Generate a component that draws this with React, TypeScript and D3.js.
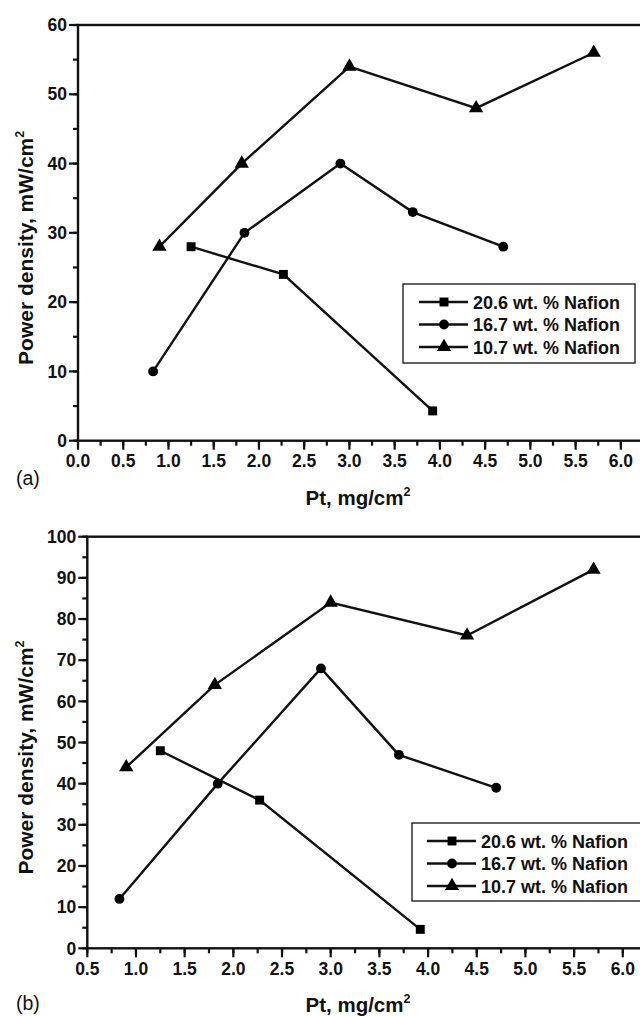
import React, { useEffect, useRef } from "react";
import * as d3 from "d3";

// Pt loading (mg/cm2) for each membrane series
const ptNafion206 = [1.25, 2.27, 3.92];
const ptNafion167 = [0.83, 1.84, 2.9, 3.7, 4.7];
const ptNafion107 = [0.9, 1.81, 3.0, 4.4, 5.7];

// panel (a) power density, mW/cm2
const powerA206 = [28, 24, 4.3];
const powerA167 = [10, 30, 40, 33, 28];
const powerA107 = [28, 40, 54, 48, 56];

// panel (b) power density, mW/cm2
const powerB206 = [48, 36, 4.6];
const powerB167 = [12, 40, 68, 47, 39];
const powerB107 = [44, 64, 84, 76, 92];

const seriesNames = ["20.6 wt. % Nafion", "16.7 wt. % Nafion", "10.7 wt. % Nafion"];

const xTicksA = [0, 0.5, 1, 1.5, 2, 2.5, 3, 3.5, 4, 4.5, 5, 5.5, 6];
const xTicksB = [0.5, 1, 1.5, 2, 2.5, 3, 3.5, 4, 4.5, 5, 5.5, 6];
const yTicksA = [0, 10, 20, 30, 40, 50, 60];
const yTicksB = [0, 10, 20, 30, 40, 50, 60, 70, 80, 90, 100];

const FONT = "'Liberation Sans', Arial, sans-serif";
const symbols = [d3.symbolSquare, d3.symbolCircle, d3.symbolTriangle];
const symbolSizes = [80, 76, 88];

function drawPanel(svg, p) {
  const x = d3.scaleLinear().domain(p.xDomain).range([p.left, p.right]);
  const y = d3.scaleLinear().domain(p.yDomain).range([p.bottom, p.top]);
  const g = svg.append("g");

  // minor ticks
  const xMinor = d3.range(p.xDomain[0], p.xDomain[1] + 0.001, 0.25);
  g.selectAll(".xminor").data(xMinor).enter().append("line")
    .attr("x1", d => x(d)).attr("x2", d => x(d))
    .attr("y1", p.bottom).attr("y2", p.bottom + 5)
    .attr("stroke", "#111").attr("stroke-width", 2.2);
  const yMinor = d3.range(p.yDomain[0], p.yDomain[1] + 0.001, p.yStep / 2);
  g.selectAll(".yminor").data(yMinor).enter().append("line")
    .attr("x1", p.left - 5).attr("x2", p.left)
    .attr("y1", d => y(d)).attr("y2", d => y(d))
    .attr("stroke", "#111").attr("stroke-width", 2.2);

  // major ticks + labels
  g.selectAll(".xmajor").data(p.xTicks).enter().append("line")
    .attr("x1", d => x(d)).attr("x2", d => x(d))
    .attr("y1", p.bottom).attr("y2", p.bottom + 9)
    .attr("stroke", "#111").attr("stroke-width", 2.2);
  g.selectAll(".xlab").data(p.xTicks).enter().append("text")
    .attr("x", d => x(d)).attr("y", p.bottom + 26.5)
    .attr("text-anchor", "middle")
    .style("font-family", FONT).style("font-size", "17.5px").style("font-weight", "bold")
    .attr("fill", "#111")
    .text(d => d.toFixed(1));
  g.selectAll(".ymajor").data(p.yTicks).enter().append("line")
    .attr("x1", p.left - 9).attr("x2", p.left)
    .attr("y1", d => y(d)).attr("y2", d => y(d))
    .attr("stroke", "#111").attr("stroke-width", 2.2);
  g.selectAll(".ylab").data(p.yTicks).enter().append("text")
    .attr("x", p.left - 11).attr("y", d => y(d) + 6.2)
    .attr("text-anchor", "end")
    .style("font-family", FONT).style("font-size", "17.5px").style("font-weight", "bold")
    .attr("fill", "#111")
    .text(d => d);

  // frame
  g.append("rect")
    .attr("x", p.left).attr("y", p.top)
    .attr("width", p.right - p.left).attr("height", p.bottom - p.top)
    .attr("fill", "none").attr("stroke", "#111").attr("stroke-width", 2.4);

  // series
  const line = d3.line().x(d => x(d[0])).y(d => y(d[1]));
  p.series.forEach((s, i) => {
    const pts = s.xs.map((v, k) => [v, s.ys[k]]);
    g.append("path").datum(pts)
      .attr("d", line).attr("fill", "none")
      .attr("stroke", "#111").attr("stroke-width", 2.4);
    g.selectAll(".pt" + i).data(pts).enter().append("path")
      .attr("d", d3.symbol().type(symbols[i]).size(symbolSizes[i]))
      .attr("transform", d => "translate(" + x(d[0]) + "," + y(d[1]) + ")")
      .attr("fill", "#000");
  });

  // axis titles
  const cy = (p.top + p.bottom) / 2 + 15;
  const yt = g.append("text")
    .attr("transform", "translate(32.5," + cy + ") rotate(-90)")
    .attr("text-anchor", "middle")
    .style("font-family", FONT).style("font-size", "21px").style("font-weight", "bold")
    .attr("fill", "#111");
  yt.append("tspan").text("Power density, mW/cm");
  yt.append("tspan").attr("dy", -9).style("font-size", "12.5px").text("2");

  const xt = g.append("text")
    .attr("x", 358).attr("y", p.xTitleY)
    .attr("text-anchor", "middle")
    .style("font-family", FONT).style("font-size", "20.5px").style("font-weight", "bold")
    .attr("fill", "#111");
  xt.append("tspan").text("Pt, mg/cm");
  xt.append("tspan").attr("dy", -9).style("font-size", "12.5px").text("2");

  g.append("text")
    .attr("x", 16).attr("y", p.tagY)
    .style("font-family", FONT).style("font-size", "19.5px")
    .attr("fill", "#111")
    .text(p.tag);

  // legend
  const L = p.legend;
  g.append("rect")
    .attr("x", L.x).attr("y", L.y).attr("width", L.w).attr("height", L.h)
    .attr("fill", "#fff").attr("stroke", "#222").attr("stroke-width", 1.4);
  seriesNames.forEach((name, i) => {
    const ry = L.row0 + i * 22.5;
    g.append("line")
      .attr("x1", L.lx).attr("x2", L.lx + 49).attr("y1", ry).attr("y2", ry)
      .attr("stroke", "#111").attr("stroke-width", 2.4);
    g.append("path")
      .attr("d", d3.symbol().type(symbols[i]).size(symbolSizes[i]))
      .attr("transform", "translate(" + (L.lx + 25) + "," + ry + ")")
      .attr("fill", "#000");
    g.append("text")
      .attr("x", L.lx + 54).attr("y", ry + 6.5)
      .style("font-family", FONT).style("font-size", "18px").style("font-weight", "bold")
      .attr("fill", "#111")
      .text(name);
  });
}

export default function App() {
  const ref = useRef(null);
  useEffect(() => {
    const svg = d3.select(ref.current);
    svg.selectAll("*").remove();
    drawPanel(svg, {
      left: 78, right: 648, top: 25, bottom: 440.7,
      xDomain: [0, 6.3], yDomain: [0, 60], yStep: 10,
      xTicks: xTicksA, yTicks: yTicksA,
      xTitleY: 505, tag: "(a)", tagY: 485,
      legend: { x: 403, y: 284, w: 232, h: 79, row0: 302, lx: 419 },
      series: [
        { xs: ptNafion206, ys: powerA206 },
        { xs: ptNafion167, ys: powerA167 },
        { xs: ptNafion107, ys: powerA107 },
      ],
    });
    drawPanel(svg, {
      left: 87.3, right: 652, top: 536.7, bottom: 948.3,
      xDomain: [0.5, 6.3], yDomain: [0, 100], yStep: 10,
      xTicks: xTicksB, yTicks: yTicksB,
      xTitleY: 1011.5, tag: "(b)", tagY: 1010,
      legend: { x: 412, y: 823, w: 240, h: 78, row0: 841, lx: 427 },
      series: [
        { xs: ptNafion206, ys: powerB206 },
        { xs: ptNafion167, ys: powerB167 },
        { xs: ptNafion107, ys: powerB107 },
      ],
    });
  }, []);
  return (
    <svg ref={ref} width={640} height={1016}
      style={{ position: "absolute", left: 0, top: 0, background: "#fff" }} />
  );
}
